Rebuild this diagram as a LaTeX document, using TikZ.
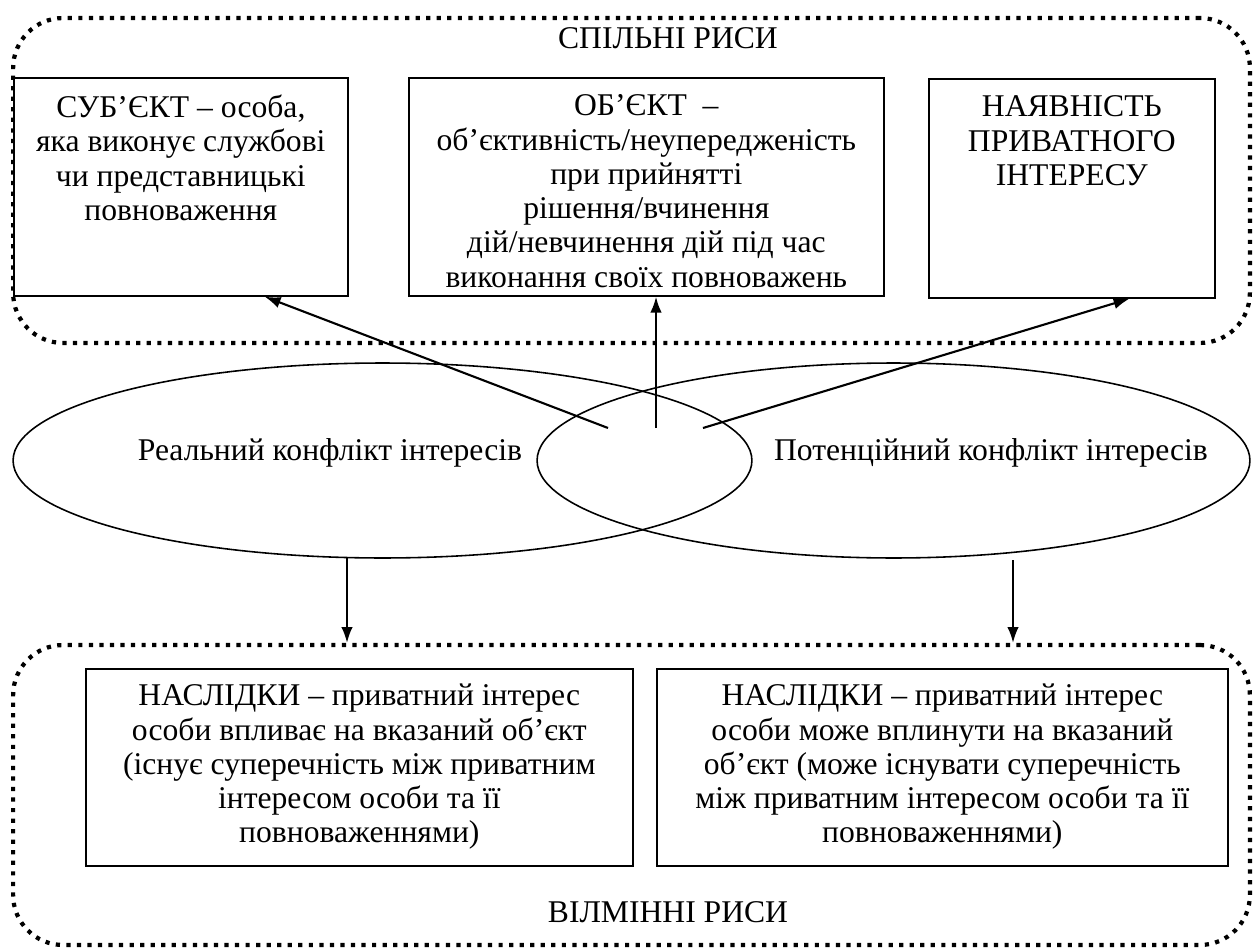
\documentclass[tikz,border=0pt]{standalone}
\usepackage{fontspec}
\setmainfont{Liberation Serif}
\usetikzlibrary{
    arrows.meta,
    shapes.geometric,
    calc,
    positioning
}

\newcommand{\diagfont}{\fontsize{18}{19.5}\selectfont\lineskiplimit=-20pt\relax}

\tikzset{
    txt/.style={font=\diagfont, align=center, inner sep=0pt},
    frame/.style={draw, line width=1pt, fill=white, anchor=north west, inner sep=0pt},
    group/.style={draw, line width=2.4pt, dash pattern=on 2.4pt off 3.6pt, rounded corners=1cm, inner sep=0pt, minimum width=24.74cm},
    conflict/.style={draw, ellipse, line width=0.9pt, inner sep=0pt, minimum height=3.9cm},
    arrow/.style={line width=1.2pt, -{Latex[length=9pt, width=6.5pt]}}
}

\begin{document}
\begin{tikzpicture}[x=0.02cm, y=-0.02cm]
    \useasboundingbox (0,0) rectangle (1253,949);

    % dotted groups
    \node[group, minimum height=6.5cm] (common) at (631.5,180.5) {};
    \node[group, minimum height=6cm] (diff) at (631.5,795) {};
    \node[txt] (commontitle) at (668,38) {СПІЛЬНІ РИСИ};
    \node[txt] (difftitle) at (668,912) {ВІЛМІННІ РИСИ};

    % common features
    \node[frame, minimum width=6.68cm, minimum height=4.36cm] (subj) at (13,77) {};
    \node[frame, minimum width=9.5cm, minimum height=4.36cm] (obj) at (408,77) {};
    \node[frame, minimum width=5.72cm, minimum height=4.38cm] (priv) at (928,78) {};
    \node[txt, below=10pt of subj.north] (subjtext) {СУБ’ЄКТ – особа,\\ яка виконує службові\\ чи представницькі\\ повноваження};
    \node[txt, below=10pt of obj.north] (objtext) {ОБ’ЄКТ \ –\\ об’єктивність/неупередженість\\ при прийнятті\\ рішення/вчинення\\ дій/невчинення дій під час\\ виконання своїх повноважень};
    \node[txt, below=10pt of priv.north] (privtext) {НАЯВНІСТЬ\\ ПРИВАТНОГО\\ ІНТЕРЕСУ};

    % conflicts
    \node[conflict, minimum width=14.78cm] (lreal) at (382.5,460.5) {};
    \node[conflict, minimum width=14.26cm] (rpot) at (893.5,460.5) {};
    \node[txt] (realtext) at (330,453) {Реальний конфлікт інтересів};
    \node[txt] (pottext) at (991,453) {Потенційний конфлікт інтересів};

    % differences
    \node[frame, minimum width=10.94cm, minimum height=3.94cm] (cons1) at (85,668) {};
    \node[frame, minimum width=11.42cm, minimum height=3.94cm] (cons2) at (656,668) {};
    \node[txt, below=9pt of cons1.north] (cons1text) {НАСЛІДКИ – приватний інтерес\\ особи впливає на вказаний об’єкт\\ (існує суперечність між приватним\\ інтересом особи та її\\ повноваженнями)};
    \node[txt, below=9pt of cons2.north] (cons2text) {НАСЛІДКИ – приватний інтерес\\ особи може вплинути на вказаний\\ об’єкт (може існувати суперечність\\ між приватним інтересом особи та її\\ повноваженнями)};

    % arrows
    \coordinate (src1) at (608,428);
    \coordinate (src2) at (656,428);
    \coordinate (src3) at (703,428);
    \coordinate (dl) at (347,558);
    \coordinate (dr) at (1013,560);
    \draw[arrow] (src1) -- ($(subj.south west)!0.75!(subj.south east)$);
    \draw[arrow] (src2) -- (src2 |- obj.south);
    \draw[arrow] (src3) -- ($(priv.south west)!0.7!(priv.south east)$);
    \draw[arrow] (dl) -- (dl |- diff.north);
    \draw[arrow] (dr) -- (dr |- diff.north);
\end{tikzpicture}
\end{document}
